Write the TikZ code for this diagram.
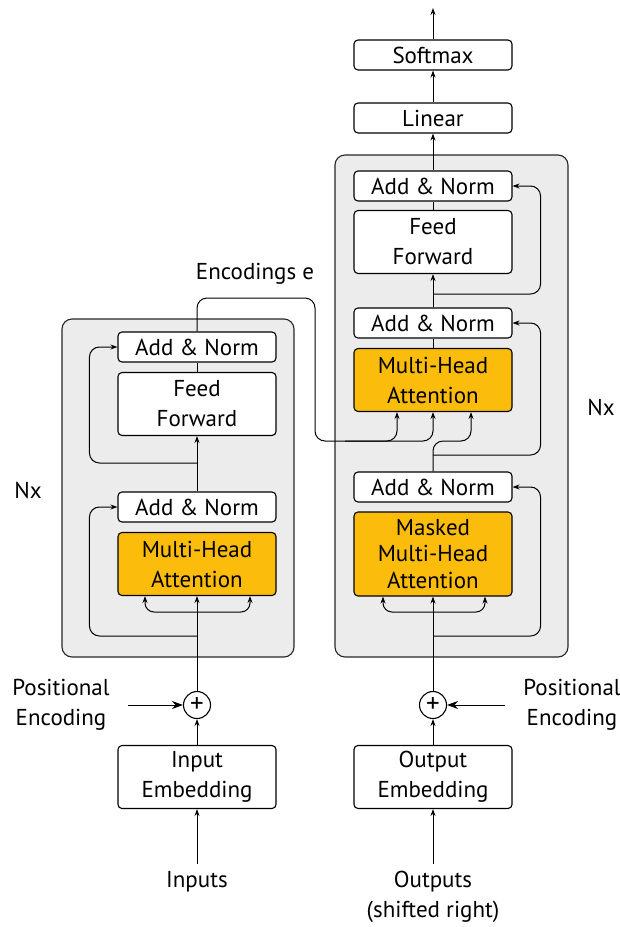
\documentclass[tikz,border=0pt]{standalone}
\usepackage{fontspec}
\setmainfont{PT Sans}
\usetikzlibrary{arrows.meta,positioning}

\definecolor{attnorange}{RGB}{252,188,12}
\definecolor{stackgray}{RGB}{236,236,236}

\tikzset{
	block/.style={draw, rounded corners=4pt, fill=white, line width=1.1pt,
		minimum width=158pt, minimum height=30pt, inner sep=0pt, align=center},
	tallblock/.style={block, minimum height=63pt},
	attn/.style={tallblock, fill=attnorange},
	stack/.style={draw=black!85, fill=stackgray, rounded corners=10pt, line width=1.1pt},
	wire/.style={line width=1pt},
	flow/.style={wire, -{Stealth[length=7pt,width=5pt]}},
	bigflow/.style={wire, -{Stealth[length=11pt,width=8pt]}},
	plus/.style={draw, circle, fill=white, line width=1.1pt, minimum size=27pt, inner sep=0pt, font=\fontsize{27}{27}\selectfont},
}

\begin{document}
\begin{tikzpicture}[x=1pt, y=-1pt, font=\fontsize{23}{30}\selectfont]
	\useasboundingbox (0,0) rectangle (620,927);

	% graue Stapel
	\draw[stack] (62,319) rectangle (294,657);
	\draw[stack] (335,155) rectangle (568,657);

	% Encoder
	\node[block] (enc_norm2) at (197,347) {Add \& Norm};
	\node[tallblock] (enc_ff) at (197,404) {Feed\\Forward};
	\node[block] (enc_norm1) at (197,507) {Add \& Norm};
	\node[attn] (enc_mha) at (197,564) {Multi-Head\\Attention};
	\node[plus] (enc_add) at (197,705) {+};
	\node[tallblock] (enc_emb) at (197,777) {Input\\Embedding};
	\node (inputs) at (197,882) {Inputs};
	\node[align=center] (enc_pos) at (61,705) {Positional\\Encoding};
	\node (enc_nx) at (28,490) {Nx};
	\node (enc_label) at (255,274) {Encodings e};

	% Decoder
	\node[block] (softmax) at (433,55) {Softmax};
	\node[block] (linear) at (433,118) {Linear};
	\node[block] (dec_norm3) at (433,186) {Add \& Norm};
	\node[tallblock] (dec_ff) at (433,242) {Feed\\Forward};
	\node[block] (dec_norm2) at (433,323) {Add \& Norm};
	\node[attn] (dec_mha) at (433,380) {Multi-Head\\Attention};
	\node[block] (dec_norm1) at (433,487) {Add \& Norm};
	\node[attn, minimum height=84pt, font=\fontsize{23}{26.5}\selectfont] (dec_mmha) at (433,554) {Masked\\Multi-Head\\Attention};
	\node[plus] (dec_add) at (433,705) {+};
	\node[tallblock] (dec_emb) at (433,777) {Output\\Embedding};
	\node[align=center] (outputs) at (433,897) {Outputs\\(shifted right)};
	\node[align=center] (dec_pos) at (572,705) {Positional\\Encoding};
	\node (dec_nx) at (601,407) {Nx};

	% Hilfspunkte
	\coordinate (enc_split) at (197,612);
	\coordinate (enc_res1) at (197,636);
	\coordinate (enc_res2) at (197,463);
	\coordinate (enc_out) at (315,298);
	\coordinate (enc_cross) at (315,441);
	\coordinate (dec_split) at (433,612);
	\coordinate (dec_res1) at (433,636);
	\coordinate (dec_q) at (433,441);
	\coordinate (dec_res2) at (433,455);
	\coordinate (dec_res3) at (433,294);
	\coordinate (probs) at (433,8);

	% Eingang Encoder
	\draw[flow, shorten <=4pt] (inputs.north) -- (enc_emb);
	\draw[flow] (enc_emb) -- (enc_add);
	\draw[bigflow, shorten <=15pt] (enc_pos) -- (enc_add);
	\draw[flow] (enc_add) -- (enc_mha.south);
	\draw[flow, rounded corners=9pt] (enc_split) -| ([xshift=-52pt]enc_mha.south);
	\draw[flow, rounded corners=9pt] (enc_split) -| ([xshift=53pt]enc_mha.south);

	% Encoder Schichten
	\draw[flow, rounded corners=10pt] (enc_res1) -| ([xshift=-28pt]enc_norm1.west) -- (enc_norm1.west);
	\draw[flow] (enc_norm1) -- (enc_ff);
	\draw[flow, rounded corners=10pt] (enc_res2) -| ([xshift=-28pt]enc_norm2.west) -- (enc_norm2.west);
	\draw[wire] (enc_ff) -- (enc_norm2);

	% Encodings zum Decoder
	\draw[flow, rounded corners=10pt] (enc_norm2.north) |- (enc_out) -- (enc_cross) -| ([xshift=-36pt]dec_mha.south);
	\draw[flow, rounded corners=10pt] ([xshift=30pt]enc_cross) -| (dec_mha.south);

	% Eingang Decoder
	\draw[flow, shorten <=4pt] (outputs.north) -- (dec_emb);
	\draw[flow] (dec_emb) -- (dec_add);
	\draw[bigflow, shorten <=15pt] (dec_pos) -- (dec_add);
	\draw[flow] (dec_add) -- (dec_mmha.south);
	\draw[flow, rounded corners=9pt] (dec_split) -| ([xshift=-50pt]dec_mmha.south);
	\draw[flow, rounded corners=9pt] (dec_split) -| ([xshift=52pt]dec_mmha.south);

	% Decoder Schichten
	\draw[flow, rounded corners=10pt] (dec_res1) -| ([xshift=28pt]dec_norm1.east) -- (dec_norm1.east);
	\draw[flow, rounded corners=10pt] (dec_norm1.north) -- (dec_q) -| ([xshift=38pt]dec_mha.south);
	\draw[flow, rounded corners=10pt] (dec_res2) -| ([xshift=28pt]dec_norm2.east) -- (dec_norm2.east);
	\draw[wire] (dec_mha) -- (dec_norm2);
	\draw[flow] (dec_norm2) -- (dec_ff);
	\draw[flow, rounded corners=10pt] (dec_res3) -| ([xshift=28pt]dec_norm3.east) -- (dec_norm3.east);
	\draw[wire] (dec_ff) -- (dec_norm3);

	% Ausgang
	\draw[flow] (dec_norm3) -- (linear);
	\draw[flow] (linear) -- (softmax);
	\draw[flow] (softmax) -- (probs);
\end{tikzpicture}
\end{document}
